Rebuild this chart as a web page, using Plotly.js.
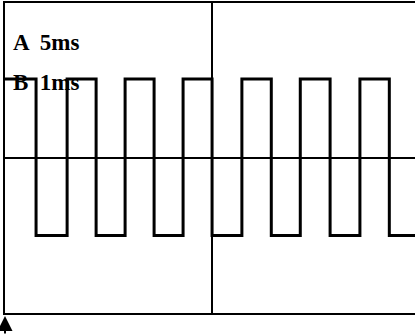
<!DOCTYPE html>
<html>
<head>
<meta charset="utf-8">
<script src="https://cdn.plot.ly/plotly-3.0.1.min.js"></script>
<style>
  html, body { margin: 0; padding: 0; background: #fff; overflow: hidden; }
  #chart { width: 415px; height: 335px; }
</style>
</head>
<body>
<div id="chart"></div>
<script>
// square wave (x in grid units, centre line at 5)
const fallingEdges = [0.75, 2.20, 3.60, 5.00, 6.43, 7.85, 9.28];
const risingEdges = [1.50, 2.90, 4.30, 5.72, 7.13, 8.57];
const highLevel = 1.02;
const lowLevel = -1.0;
const xEnd = 9.9;
const labels = ['A  5ms', 'B  1ms'];
const labelY = [1.49, 0.97];

// build the step trace from the edges
const waveX = [0];
const waveY = [highLevel];
for (let i = 0; i < fallingEdges.length; i++) {
    waveX.push(fallingEdges[i]);
    waveY.push(lowLevel);
    if (i < risingEdges.length) {
        waveX.push(risingEdges[i]);
        waveY.push(highLevel);
    }
}
waveX.push(xEnd);
waveY.push(lowLevel);

const annotations = labels.map((t, i) => ({
    text: t,
    x: 0.14,
    y: labelY[i],
    xref: 'x',
    yref: 'y',
    xanchor: 'left',
    yanchor: 'middle',
    showarrow: false,
    font: { family: 'Liberation Serif', size: 23, color: '#000', weight: 'bold' }
}));

// trigger arrow under the left edge
annotations.push({
    text: '',
    x: 0,
    y: -2,
    xref: 'x',
    yref: 'y',
    ax: 0,
    ay: 30,
    showarrow: true,
    arrowhead: 2,
    arrowsize: 1.5,
    arrowwidth: 2,
    arrowcolor: '#000',
    standoff: 3
});

Plotly.newPlot('chart', [{
    x: waveX,
    y: waveY,
    type: 'scatter',
    mode: 'lines',
    line: { color: '#000', width: 3, shape: 'hv' },
    hoverinfo: 'skip'
}], {
    width: 415,
    height: 335,
    margin: { l: 5, r: 0, t: 3, b: 22 },
    paper_bgcolor: '#fff',
    plot_bgcolor: '#fff',
    showlegend: false,
    xaxis: {
        range: [0, xEnd],
        tickvals: [5],
        showticklabels: false,
        ticks: '',
        showgrid: true,
        gridcolor: '#000',
        gridwidth: 1.5,
        zeroline: false,
        showline: true,
        mirror: true,
        linecolor: '#000',
        linewidth: 2,
        fixedrange: true
    },
    yaxis: {
        range: [-2, 2],
        tickvals: [0],
        showticklabels: false,
        ticks: '',
        showgrid: true,
        gridcolor: '#000',
        gridwidth: 1.5,
        zeroline: false,
        showline: true,
        linecolor: '#000',
        linewidth: 2,
        fixedrange: true
    },
    annotations: annotations
}, { displayModeBar: false, staticPlot: true });
</script>
</body>
</html>
